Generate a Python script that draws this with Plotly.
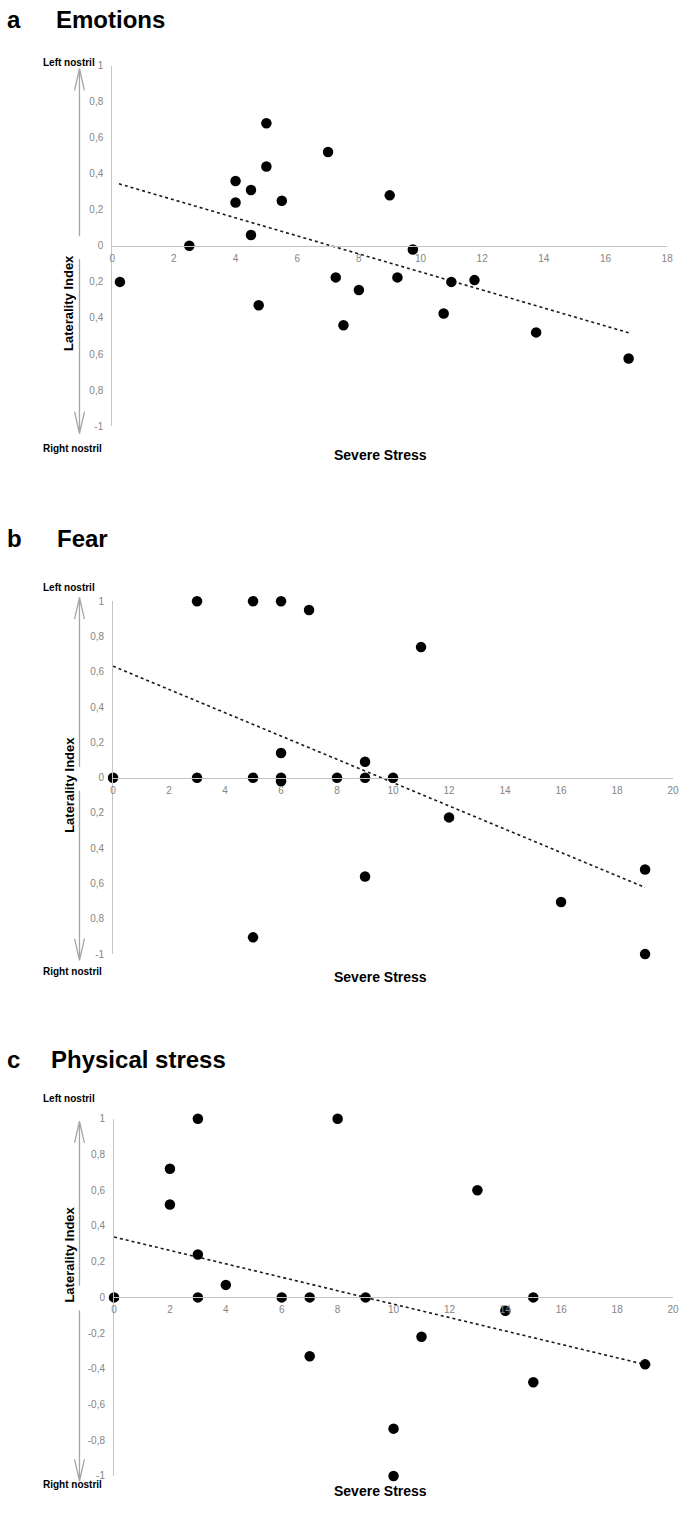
import plotly.graph_objects as go

W, H = 685, 1514

# a - Emotions
emo_x = [0.25, 2.5, 4, 4, 4.5, 4.5, 4.75, 5, 5, 5.5, 7, 7.25, 7.5, 8, 9, 9.25, 9.75, 10.75, 11, 11.75, 13.75, 16.75]
emo_y = [-0.2, 0, 0.36, 0.24, 0.31, 0.06, -0.33, 0.68, 0.44, 0.25, 0.52, -0.175, -0.44, -0.245, 0.28, -0.175, -0.02, -0.375, -0.2, -0.19, -0.48, -0.625]
emo_trend_x = [0.22, 16.75]
emo_trend_y = [0.344, -0.482]

# b - Fear
fear_x = [0, 3, 3, 5, 5, 5, 6, 6, 6, 6, 7, 8, 9, 9, 9, 10, 11, 12, 16, 19, 19]
fear_y = [0, 1, 0, 1, 0, -0.905, 1, 0.14, 0, -0.02, 0.95, 0, 0.09, 0, -0.56, 0, 0.74, -0.225, -0.705, -0.52, -1]
fear_trend_x = [0, 19]
fear_trend_y = [0.632, -0.622]

# c - Physical stress
phys_x = [0, 2, 2, 3, 3, 3, 4, 6, 7, 7, 8, 9, 10, 10, 11, 13, 14, 15, 15, 19]
phys_y = [0, 0.72, 0.52, 1, 0.24, 0, 0.07, 0, 0, -0.33, 1, 0, -0.735, -1, -0.22, 0.6, -0.075, 0, -0.475, -0.375]
phys_trend_x = [0, 19]
phys_trend_y = [0.338, -0.376]

y_ticks = [1, 0.8, 0.6, 0.4, 0.2, 0, -0.2, -0.4, -0.6, -0.8, -1]
y_text_ab = ['1', '0,8', '0,6', '0,4', '0,2', '0', '0,2', '0,4', '0,6', '0,8', '-1']
y_text_c = ['1', '0,8', '0,6', '0,4', '0,2', '0', '-0,2', '-0,4', '-0,6', '-0,8', '-1']

panels = [
    dict(letter='a', title='Emotions', x=emo_x, y=emo_y, tx=emo_trend_x, ty=emo_trend_y,
         xmax=18, ytext=y_text_ab,
         left=110.7, right=673, top=60, bottom=423.5, head=14, title_x=52,
         up_tip=63, up_end=232, down_start=255, down_tip=431, lab_top=49, lab_bot=438, stress=443),
    dict(letter='b', title='Fear', x=fear_x, y=fear_y, tx=fear_trend_x, ty=fear_trend_y,
         xmax=20, ytext=y_text_ab,
         left=111.5, right=679, top=600, bottom=955.7, head=537, title_x=53,
         up_tip=596, up_end=767, down_start=791, down_tip=962, lab_top=586, lab_bot=973, stress=979),
    dict(letter='c', title='Physical stress', x=phys_x, y=phys_y, tx=phys_trend_x, ty=phys_trend_y,
         xmax=20, ytext=y_text_c,
         left=112.5, right=679, top=1121.7, bottom=1481.7, head=1062, title_x=47,
         up_tip=1124, up_end=1290, down_start=1315, down_tip=1487, lab_top=1109, lab_bot=1498, stress=1507),
]


def px(v):
    return v / W


def py(v):
    return 1 - v / H


sans = 'Liberation Sans, Arial'
axis_grey = '#c4c4c4'
tick_grey = '#858585'

fig = go.Figure()
annotations = []
shapes = []

for i, p in enumerate(panels):
    n = '' if i == 0 else str(i + 1)
    xa, ya = 'x' + n, 'y' + n

    # dotted linear trend line
    fig.add_trace(go.Scatter(x=p['tx'], y=p['ty'], mode='lines',
                             line=dict(color='#1a1a1a', width=1.6, dash='dot'),
                             xaxis=xa, yaxis=ya, hoverinfo='skip'))
    fig.add_trace(go.Scatter(x=p['x'], y=p['y'], mode='markers',
                             marker=dict(color='black', size=10.5),
                             cliponaxis=False, xaxis=xa, yaxis=ya))

    mid = (p['top'] + p['bottom']) / 2
    fig.layout['xaxis' + n] = dict(
        domain=[px(p['left']), px(p['right'])], range=[0, p['xmax']],
        anchor='free', position=py(mid),
        tickvals=list(range(0, p['xmax'] + 1, 2)),
        showline=True, linecolor=axis_grey, linewidth=1,
        ticks='outside', ticklen=3, tickcolor='rgba(0,0,0,0)',
        tickfont=dict(family=sans, size=10, color=tick_grey),
        showgrid=False, zeroline=False)
    fig.layout['yaxis' + n] = dict(
        domain=[py(p['bottom']), py(p['top'])], range=[-1, 1], anchor=xa,
        tickvals=y_ticks, ticktext=p['ytext'],
        showline=True, linecolor=axis_grey, linewidth=1,
        ticks='outside', ticklen=6, tickcolor='rgba(0,0,0,0)',
        tickfont=dict(family=sans, size=10, color=tick_grey),
        showgrid=False, zeroline=False)

    # panel heading
    annotations.append(dict(x=px(2), y=py(p['head']), text=p['letter'], showarrow=False,
                            xref='paper', yref='paper', xanchor='left', yanchor='middle',
                            font=dict(family=sans, size=24, color='black', weight='bold')))
    annotations.append(dict(x=px(p['title_x']), y=py(p['head']), text=p['title'], showarrow=False,
                            xref='paper', yref='paper', xanchor='left', yanchor='middle',
                            font=dict(family=sans, size=24, color='black', weight='bold')))
    # nostril labels and axis titles
    annotations.append(dict(x=px(38), y=py(p['lab_top']), text='Left nostril', showarrow=False,
                            xref='paper', yref='paper', xanchor='left',
                            font=dict(family=sans, size=10, color='black', weight='bold')))
    annotations.append(dict(x=px(38), y=py(p['lab_bot']), text='Right nostril', showarrow=False,
                            xref='paper', yref='paper', xanchor='left',
                            font=dict(family=sans, size=10, color='black', weight='bold')))
    annotations.append(dict(x=px(383), y=py(p['stress']), text='Severe Stress', showarrow=False,
                            xref='paper', yref='paper',
                            font=dict(family=sans, size=14, color='black', weight='bold')))
    annotations.append(dict(x=px(57.5), y=py(mid + 7), text='Laterality Index', showarrow=False,
                            textangle=-90, xref='paper', yref='paper',
                            font=dict(family=sans, size=13, color='black', weight='bold')))

    # up / down arrows beside the y axis
    ax = 77.5
    for tip, end, sgn in [(p['up_tip'], p['up_end'], 1), (p['down_tip'], p['down_start'], -1)]:
        path = (f"M {px(ax)},{py(end)} L {px(ax)},{py(tip)} "
                f"M {px(ax - 5)},{py(tip + sgn * 22)} L {px(ax)},{py(tip)} L {px(ax + 5)},{py(tip + sgn * 22)}")
        shapes.append(dict(type='path', path=path, xref='paper', yref='paper',
                           line=dict(color='#a6a6a6', width=1.3)))

fig.update_layout(width=W, height=H, autosize=False,
                  margin=dict(l=0, r=0, t=0, b=0),
                  paper_bgcolor='white', plot_bgcolor='white',
                  showlegend=False, annotations=annotations, shapes=shapes)

# drop the browser's default body margin so the figure sits at the page origin
fig.write_html("out.html", config={'displayModeBar': False},
               post_script="document.body.style.margin='0';document.body.style.overflow='hidden';")
